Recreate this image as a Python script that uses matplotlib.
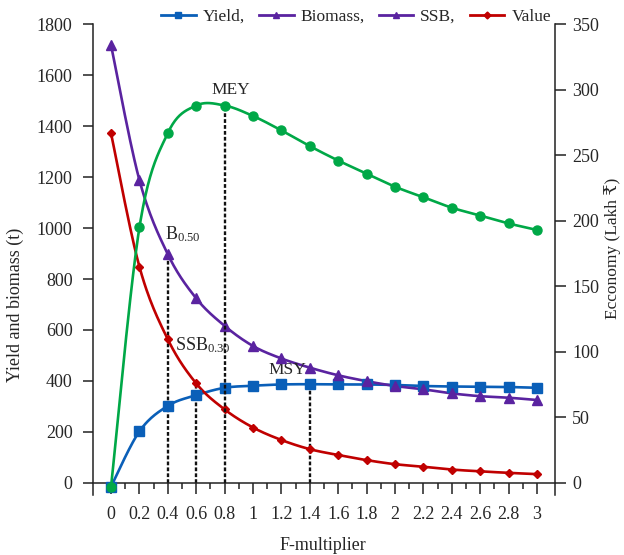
import numpy as np
import matplotlib
matplotlib.use("Agg")
import matplotlib.pyplot as plt
from matplotlib.lines import Line2D
from matplotlib.ticker import FixedLocator

plt.rcParams['font.family'] = ['Liberation Serif', 'DejaVu Serif']
plt.rcParams['mathtext.fontset'] = 'custom'
plt.rcParams['mathtext.rm'] = 'Liberation Serif'
plt.rcParams['mathtext.it'] = 'Liberation Serif:italic'

# F-multiplier levels
f_mult = [0.0, 0.2, 0.4, 0.6, 0.8, 1.0, 1.2, 1.4, 1.6, 1.8, 2.0, 2.2, 2.4, 2.6, 2.8, 3.0]
# Left axis: yield and biomass (t)
yield_t = [-15, 202, 302, 344, 373, 381, 386, 387, 386, 386, 384, 380, 378, 377, 376, 373]
biomass_t = [1718, 1188, 897, 724, 616, 537, 488, 452, 422, 399, 380, 367, 351, 340, 334, 325]
ssb_t = [1372, 848, 563, 390, 288, 217, 168, 132, 109, 89, 73, 63, 52, 45, 39, 34]
# Right axis: economic value (Lakh ₹)
value_lakh = [-3, 195, 267, 288, 288, 280, 269, 257, 246, 236, 226, 218, 210, 204, 198, 193]

x_ticks = [0, 0.2, 0.4, 0.6, 0.8, 1, 1.2, 1.4, 1.6, 1.8, 2, 2.2, 2.4, 2.6, 2.8, 3]
x_tick_labels = ["0", "0.2", "0.4", "0.6", "0.8", "1", "1.2", "1.4", "1.6",
                 "1.8", "2", "2.2", "2.4", "2.6", "2.8", "3"]
legend_labels = ["Yield,", "Biomass,", "SSB,", "Value"]

C_BLUE = "#0a5fb8"
C_PURPLE = "#5a23a0"
C_RED = "#c00000"
C_GREEN = "#00a847"
TXT = "#262626"


def smooth(x, y, n=24):
    """Catmull-Rom style Bezier smoothing through every point."""
    p = np.column_stack([x, y]).astype(float)
    out = []
    for i in range(len(p) - 1):
        p0 = p[i - 1] if i > 0 else p[i]
        p1, p2 = p[i], p[i + 1]
        p3 = p[i + 2] if i + 2 < len(p) else p[i + 1]
        c1 = p1 + (p2 - p0) / 6.0
        c2 = p2 - (p3 - p1) / 6.0
        t = np.linspace(0, 1, n, endpoint=(i == len(p) - 2))[:, None]
        seg = ((1 - t) ** 3) * p1 + 3 * ((1 - t) ** 2) * t * c1 + 3 * (1 - t) * t ** 2 * c2 + t ** 3 * p2
        out.append(seg)
    s = np.vstack(out)
    return s[:, 0], s[:, 1]


fig = plt.figure(figsize=(6.24, 5.55), dpi=100)
ax = fig.add_axes([0.1486, 0.109, 0.7408, 0.8472])
ax2 = ax.twinx()

left_max = 1800
right_max = 350
ax.set_ylim(-46, left_max)
ax2.set_ylim(-46 * right_max / left_max, right_max)
ax.set_xlim(-0.129, 3.127)

lw = 1.9


def draw(axis, y, color, marker, ms):
    sx, sy = smooth(f_mult, y)
    axis.plot(sx, sy, color=color, lw=lw, solid_capstyle='round', zorder=3)
    axis.plot(f_mult, y, ls='none', marker=marker, ms=ms, color=color,
              markeredgecolor=color, zorder=4)


# Reference-point guides
dash = dict(color="#111111", lw=1.7, ls=(0, (1.6, 0.9)), zorder=2)
ax.plot([f_mult[2], f_mult[2]], [0, biomass_t[2]], **dash)
ax.plot([f_mult[3], f_mult[3]], [0, ssb_t[3]], **dash)
ax.plot([f_mult[7], f_mult[7]], [0, yield_t[7]], **dash)
ax2.plot([f_mult[4], f_mult[4]], [0, value_lakh[4]], **dash)

draw(ax, yield_t, C_BLUE, 's', 6.5)
draw(ax, biomass_t, C_PURPLE, '^', 7.5)
draw(ax, ssb_t, C_RED, 'D', 4)
draw(ax2, value_lakh, C_GREEN, 'o', 6.5)

# Spines
ax.spines['top'].set_visible(False)
ax.spines['right'].set_visible(False)
ax.spines['bottom'].set_position(('data', 0))
for s in ['top', 'left', 'bottom']:
    ax2.spines[s].set_visible(False)
for sp in [ax.spines['left'], ax.spines['bottom'], ax2.spines['right']]:
    sp.set_color("#222222")
    sp.set_linewidth(1.1)

# Ticks
ax.set_xticks(x_ticks)
ax.set_xticklabels(x_tick_labels)
ax.xaxis.set_minor_locator(FixedLocator(np.arange(0.1, 3.0, 0.2)))
ax.tick_params(axis='x', which='major', direction='out', length=8, width=1.1,
               pad=9, labelsize=13, colors="#222222", labelcolor=TXT)
ax.tick_params(axis='x', which='minor', direction='out', length=4.3, width=1.1,
               colors="#222222")
ax.set_yticks(np.arange(0, 1801, 200))
ax.tick_params(axis='y', direction='out', length=7.5, width=1.1, pad=7,
               labelsize=13, colors="#222222", labelcolor=TXT)
ax2.set_yticks(np.arange(0, 351, 50))
ax2.tick_params(axis='y', direction='out', length=8, width=1.1, pad=4.5,
                labelsize=13, colors="#222222", labelcolor=TXT)

# Axis titles
fig.text(15 / 624, 1 - 305 / 555, "Yield and biomass (t)", rotation=90,
         ha='center', va='center', fontsize=13, color=TXT)
fig.text(613 / 624, 1 - 248 / 555, "Ecconomy (Lakh ₹)", rotation=90,
         ha='center', va='center', fontsize=12.5, color=TXT)
fig.text(323 / 624, 1 - 545 / 555, "F-multiplier", ha='center', va='center',
         fontsize=13, color=TXT)

# Reference-point annotations
ax.text(0.845, 1542, "MEY", ha='center', va='center', fontsize=12.5, color=TXT)
ax.text(0.38, 975, r"$\mathrm{B}_{0.50}$", ha='left', va='center', fontsize=13, color=TXT)
ax.text(0.45, 540, r"$\mathrm{SSB}_{0.30}$", ha='left', va='center', fontsize=13, color=TXT)
ax.text(1.24, 442, "MSY", ha='center', va='center', fontsize=12.5, color=TXT)

# Legend
handles = [
    Line2D([], [], color=C_BLUE, lw=2, marker='s', ms=4.5),
    Line2D([], [], color=C_PURPLE, lw=2, marker='^', ms=5),
    Line2D([], [], color=C_PURPLE, lw=2, marker='^', ms=5),
    Line2D([], [], color=C_RED, lw=2, marker='D', ms=3.5),
]
leg = fig.legend(handles, legend_labels, loc='center', ncol=4,
                 bbox_to_anchor=(356 / 624, 1 - 17 / 555), frameon=False,
                 fontsize=12.5, handlelength=2.0, handletextpad=0.4,
                 columnspacing=0.8, borderpad=0.2)
for t in leg.get_texts():
    t.set_color(TXT)

fig.savefig("out.png", dpi=100)
